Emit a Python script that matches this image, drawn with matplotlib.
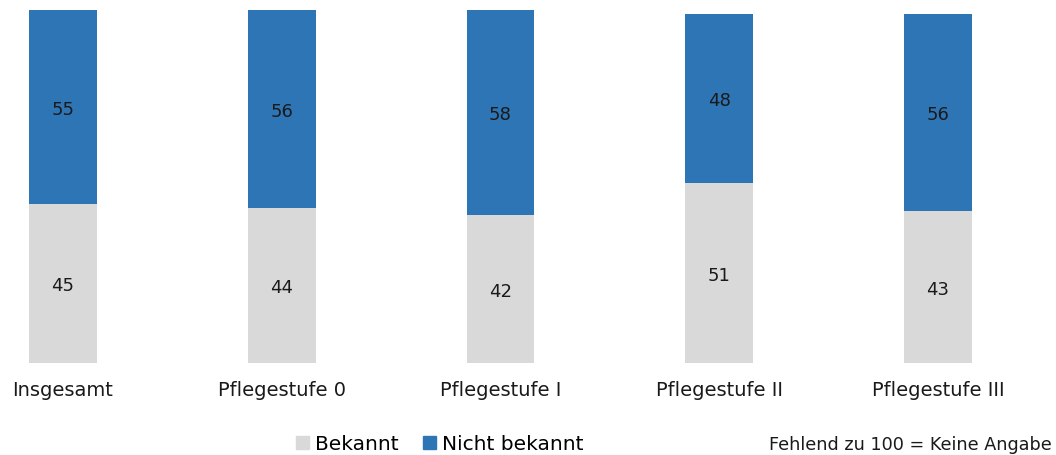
import numpy as np
import matplotlib.pyplot as plt
from matplotlib.patches import Patch

categories = ['Insgesamt', 'Pflegestufe 0', 'Pflegestufe I', 'Pflegestufe II', 'Pflegestufe III']
bekannt = [45, 44, 42, 51, 43]
nicht_bekannt = [55, 56, 58, 48, 56]

grey = '#d9d9d9'
blue = '#2e75b6'
txt = '#1a1a1a'

fig = plt.figure(figsize=(10.56, 4.55), dpi=100)
ax = fig.add_axes([0, 92 / 455, 1, 353 / 455])

x = np.arange(len(categories))
w = 0.31
b1 = ax.bar(x, bekannt, w, color=grey, label='Bekannt')
b2 = ax.bar(x, nicht_bekannt, w, bottom=bekannt, color=blue, label='Nicht bekannt')

for rects, vals, bottoms in [(b1, bekannt, [0] * 5), (b2, nicht_bekannt, bekannt)]:
    for r, v, b in zip(rects, vals, bottoms):
        ax.text(r.get_x() + r.get_width() / 2, b + v / 2 - 0.8, str(v),
                ha='center', va='center', fontsize=13, color=txt)

ax.set_xlim(-63 / 218.75, (1056 - 63) / 218.75)
ax.set_ylim(0, 100)
ax.axis('off')

# category names under the bars
for xi, name in zip(x, categories):
    ax.text(xi, -7.8, name, ha='center', va='center', fontsize=14, color=txt)

fig.legend(handles=[Patch(color=grey), Patch(color=blue)],
           labels=['Bekannt', 'Nicht bekannt'],
           loc='center', bbox_to_anchor=(440 / 1056, 1 - 444 / 455), ncol=2,
           frameon=False, fontsize=14.5, handlelength=0.65, handleheight=0.65,
           handletextpad=0.3, columnspacing=1.2)

fig.text(1052 / 1056, 1 - 445 / 455, 'Fehlend zu 100 = Keine Angabe',
         ha='right', va='center', fontsize=12.7, color=txt)

fig.savefig('out.png', dpi=100)
